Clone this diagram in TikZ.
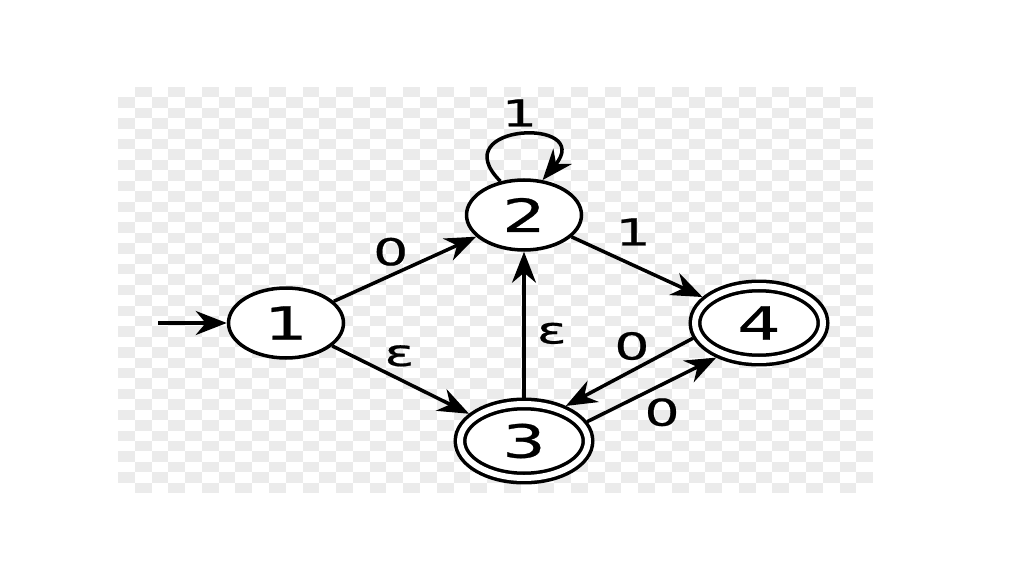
\documentclass[tikz,border=0pt]{standalone}
\usepackage{fontspec}
\usetikzlibrary{shapes.geometric, arrows.meta, positioning}
\newfontfamily\statefont[FakeStretch=1.5, FakeBold=0.6]{DejaVu Sans}
\definecolor{checker}{HTML}{EBEBEB}

\begin{document}
\begin{tikzpicture}[x=0.02cm, y=0.02cm,
    >={Stealth[length=0.62cm, width=0.48cm, inset=0.2cm]}]
  \tikzstyle{state}=[ellipse, draw, line width=2pt, fill=white,
                     minimum width=2.3cm, minimum height=1.4cm, inner sep=0pt,
                     font=\statefont\fontsize{26}{26}\selectfont]
  \tikzstyle{accept}=[state, double, double distance=3.4pt, outer sep=3.7pt,
                      minimum width=2.56cm, minimum height=1.48cm]
  \tikzstyle{arr}=[->, line width=2pt]
  \tikzstyle{lbl}=[inner sep=0pt, font=\statefont\fontsize{21}{21}\selectfont]
  \useasboundingbox (0,0) rectangle (1024,-574);
  % checkerboard behind the automaton
  \foreach \i in {0,...,44}
    \foreach \j in {0,...,38}{
      \pgfmathtruncatemacro\odd{mod(\i+\j,2)}
      \ifnum\odd=1
        \fill[checker] (118+\i*16.78,-87-\j*10.41) rectangle ++(16.78,-10.41);
      \fi}
  \node[state](q1) at (286,-323){1};
  \node[state](q2) at (524,-215){2};
  \node[accept](q3) at (524,-441){3};
  \node[accept](q4) at (759,-323){4};
  \coordinate (start) at (158,-323);
  \draw[arr](start)--(q1);
  \draw[arr](q1)--node[lbl, pos=0.4, above=0.16cm]{0}(q2);
  \draw[arr](q1)--node[lbl, pos=0.49, above=0.22cm]{ε}(q3);
  \draw[arr](q2)--node[lbl, pos=0.47, above=0.36cm]{1}(q4);
  \draw[arr](q3)--node[lbl, pos=0.44, right=0.22cm]{ε}(q2);
  \draw[arr](q4.193)--node[lbl, pos=0.48, above=0.18cm]{0}(q3.40);
  \draw[arr](q3.17)--node[lbl, pos=0.58, below=0.24cm]{0}(q4.219);
  \draw[arr](q2.125) to[out=135, in=50, looseness=5]
    node[lbl, above=0.14cm]{1}(q2.62);
\end{tikzpicture}
\end{document}
